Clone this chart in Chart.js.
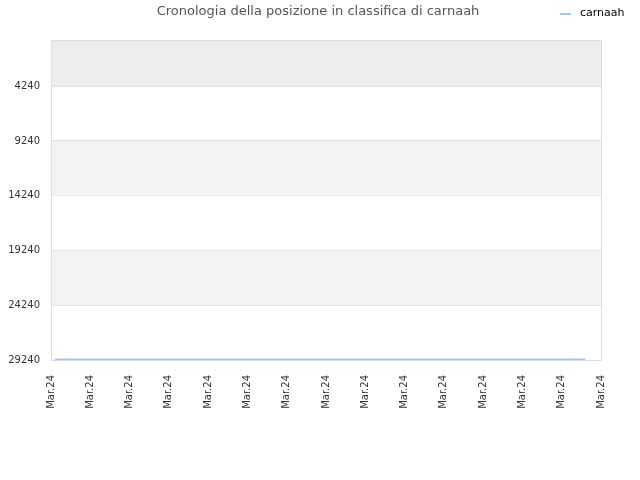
<!DOCTYPE html>
<html>
<head>
<meta charset="utf-8">
<script src="https://cdn.jsdelivr.net/npm/chart.js@4"></script>
<style>
  html, body { margin: 0; padding: 0; background: #fff; }
</style>
</head>
<body>
<canvas id="graficoPosizione" width="640" height="480"></canvas>
<script>
// dati del grafico
const titolo = "Cronologia della posizione in classifica di carnaah";
const nomeSerie = "carnaah";
const etichetteX = ["Mar.24", "Mar.24", "Mar.24", "Mar.24", "Mar.24", "Mar.24", "Mar.24", "Mar.24",
                    "Mar.24", "Mar.24", "Mar.24", "Mar.24", "Mar.24", "Mar.24", "Mar.24"];
const tickY = [4240, 9240, 14240, 19240, 24240, 29240];
const giorni = [0.1, 13.6];          // primo e ultimo punto della serie
const posizioni = [29200, 29200];    // posizione in classifica (piatta)

const yMin = 20;

// bande alternate dietro al grafico
const bande = {
    id: "bande",
    beforeDatasetsDraw(chart) {
        const { ctx, chartArea: a, scales: { y } } = chart;
        const limiti = [yMin, ...tickY];
        ctx.save();
        for (let i = 0; i < limiti.length - 1; i++) {
            let colore = null;
            if (i === 0) colore = "#ededed";
            else if (i % 2 === 0) colore = "#f3f3f3";
            if (!colore) continue;
            const y1 = y.getPixelForValue(limiti[i]);
            const y2 = y.getPixelForValue(limiti[i + 1]);
            ctx.fillStyle = colore;
            ctx.fillRect(a.left, Math.min(y1, y2), a.right - a.left, Math.abs(y2 - y1));
        }
        ctx.restore();
    },
    afterDraw(chart) {
        const { ctx, chartArea: a } = chart;
        ctx.save();
        // bordo
        ctx.strokeStyle = "#dddddd";
        ctx.lineWidth = 1;
        ctx.strokeRect(a.left + 0.5, a.top + 0.5, a.right - a.left, a.bottom - a.top);
        // titolo
        ctx.font = "13px 'DejaVu Sans'";
        ctx.fillStyle = "#555";
        ctx.textAlign = "center";
        ctx.textBaseline = "middle";
        ctx.fillText(titolo, 318, 12);
        // legenda
        ctx.strokeStyle = "#9fc9f2";
        ctx.lineWidth = 2;
        ctx.beginPath();
        ctx.moveTo(560, 14);
        ctx.lineTo(571, 14);
        ctx.stroke();
        ctx.font = "11px 'DejaVu Sans'";
        ctx.fillStyle = "#000";
        ctx.textAlign = "left";
        ctx.fillText(nomeSerie, 580, 13);
        ctx.restore();
    }
};

const ctx = document.getElementById("graficoPosizione").getContext("2d");
new Chart(ctx, {
    type: "line",
    data: {
        datasets: [{
            label: nomeSerie,
            data: giorni.map((g, i) => ({ x: g, y: posizioni[i] })),
            borderColor: "#9fc9f2",
            borderWidth: 2,
            pointRadius: 0,
            fill: false,
            tension: 0
        }]
    },
    options: {
        responsive: false,
        animation: false,
        devicePixelRatio: 1,
        layout: { padding: { top: 40, right: 39, left: 0, bottom: 65 } },
        plugins: {
            legend: { display: false },
            title: { display: false },
            tooltip: { enabled: false }
        },
        scales: {
            x: {
                type: "linear",
                min: 0,
                max: etichetteX.length - 1,
                afterBuildTicks: (s) => { s.ticks = etichetteX.map((_, i) => ({ value: i })); },
                afterFit: (s) => { s.height = 55; },
                grid: { display: false, drawTicks: false },
                border: { display: false },
                ticks: {
                    autoSkip: false,
                    minRotation: 90,
                    maxRotation: 90,
                    padding: 15,
                    color: "#333",
                    font: { family: "DejaVu Sans", size: 10 },
                    callback: (v) => etichetteX[v]
                }
            },
            y: {
                reverse: true,
                min: yMin,
                max: 29240,
                afterBuildTicks: (s) => { s.ticks = tickY.map(v => ({ value: v })); },
                afterFit: (s) => { s.width = 51; },
                grid: { color: "#e0e0e0", drawTicks: false },
                border: { display: false },
                ticks: {
                    padding: 11,
                    color: "#333",
                    font: { family: "DejaVu Sans", size: 10 },
                    callback: (v) => String(v)
                }
            }
        }
    },
    plugins: [bande]
});
</script>
</body>
</html>
